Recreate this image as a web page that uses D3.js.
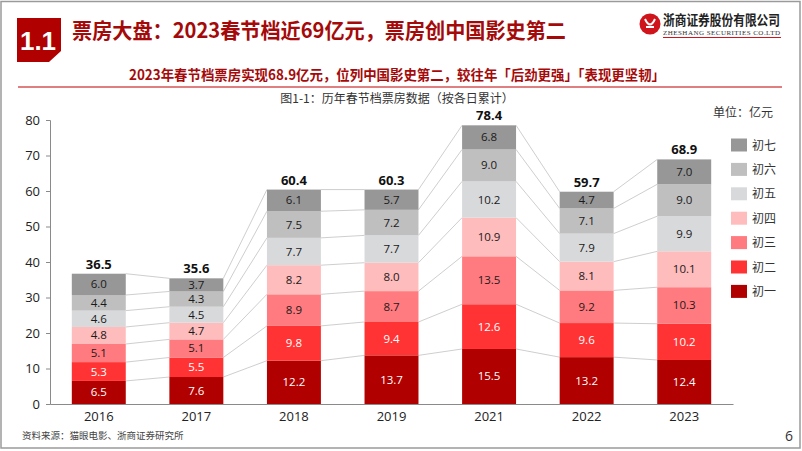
<!DOCTYPE html>
<html><head><meta charset="utf-8">
<script src="https://cdn.jsdelivr.net/npm/d3@7/dist/d3.min.js"></script>
<style>
html,body{margin:0;padding:0;background:#fff;}
svg text{font-family:"Noto Sans CJK SC","Microsoft YaHei",sans-serif;}
</style></head>
<body>
<svg id="c" width="802" height="451"></svg>
<script>
const years = ["2016","2017","2018","2019","2021","2022","2023"];
const days = ["初一","初二","初三","初四","初五","初六","初七"];
const day1 = [6.5, 7.6, 12.2, 13.7, 15.5, 13.2, 12.4];
const day2 = [5.3, 5.5, 9.8, 9.4, 12.6, 9.6, 10.2];
const day3 = [5.1, 5.1, 8.9, 8.7, 13.5, 9.2, 10.3];
const day4 = [4.8, 4.7, 8.2, 8.0, 10.9, 8.1, 10.1];
const day5 = [4.6, 4.5, 7.7, 7.7, 10.2, 7.9, 9.9];
const day6 = [4.4, 4.3, 7.5, 7.2, 9.0, 7.1, 9.0];
const day7 = [6.0, 3.7, 6.1, 5.7, 6.8, 4.7, 7.0];
const totals = [36.5, 35.6, 60.4, 60.3, 78.4, 59.7, 68.9];
const yTicks = [0,10,20,30,40,50,60,70,80];
const colors = ["#b00000","#ff3333","#ff7b7f","#ffbcbc","#d8d9db","#bfbfbf","#979797"];
const textColors = ["#fff","#fff","#1a1a1a","#1a1a1a","#1a1a1a","#1a1a1a","#1a1a1a"];

const series = [day1,day2,day3,day4,day5,day6,day7];
const table = years.map((yr,i)=>{const o={year:yr}; days.forEach((d,k)=>o[d]=series[k][i]); return o;});
const stacked = d3.stack().keys(days)(table);

const svg = d3.select("#c");
// page frame
svg.append("rect").attr("x",1).attr("y",1.5).attr("width",799).attr("height",446.5)
  .attr("fill","none").attr("stroke","#9a9a9a").attr("stroke-width",1.5);

// header block
svg.append("path").attr("d","M17,18 L61,18 L61,51 L49,62 L17,62 Z").attr("fill","#b00000");
svg.append("text").attr("x",38).attr("y",50).attr("text-anchor","middle").attr("fill","#fff")
  .attr("font-size",26).attr("font-weight","bold").style("font-family","Arial,'Liberation Sans',sans-serif").text("1.1");
svg.append("text").attr("x",72).attr("y",38).attr("fill","#a50a0a").attr("font-size",21).attr("font-weight","bold")
  .attr("textLength",494).attr("lengthAdjust","spacingAndGlyphs")
  .text("票房大盘：2023春节档近69亿元，票房创中国影史第二");

// logo
const lg = svg.append("g");
lg.append("circle").attr("cx",650).attr("cy",24).attr("r",10.5).attr("fill","#d0141c");
lg.append("path").attr("d","M645,19 Q650,30 655,19 M646,27 L654,27").attr("stroke","#fff").attr("stroke-width",2).attr("fill","none");
lg.append("text").attr("x",663).attr("y",25).attr("font-size",13.5).attr("fill","#222").attr("font-weight","bold")
  .attr("textLength",117).attr("lengthAdjust","spacingAndGlyphs").text("浙商证券股份有限公司");
lg.append("text").attr("x",663).attr("y",35).attr("font-size",7).attr("fill","#333")
  .style("font-family","'Liberation Serif',serif").attr("textLength",117).text("ZHESHANG SECURITIES CO.LTD");
lg.append("line").attr("x1",663).attr("x2",781).attr("y1",37.5).attr("y2",37.5).attr("stroke","#d0141c").attr("stroke-width",1);

// subtitle
svg.append("text").attr("x",397).attr("y",80).attr("text-anchor","middle").attr("fill","#a50a0a")
  .attr("font-size",14).attr("font-weight","bold").attr("textLength",536).attr("lengthAdjust","spacingAndGlyphs")
  .text("2023年春节档票房实现68.9亿元，位列中国影史第二，较往年「后劲更强」「表现更坚韧」");
svg.append("line").attr("x1",18).attr("x2",782).attr("y1",87).attr("y2",87).attr("stroke","#c00000").attr("stroke-width",1.2);
svg.append("text").attr("x",397).attr("y",103).attr("text-anchor","middle").attr("fill","#333")
  .attr("font-size",12).text("图1-1：历年春节档票房数据（按各日累计）");
svg.append("text").attr("x",773).attr("y",117).attr("text-anchor","end").attr("fill","#333")
  .attr("font-size",12).text("单位：亿元");

// scales
const x = d3.scaleBand().domain(years).range([50,733]).paddingInner(0.447).paddingOuter(0.2235);
const y = d3.scaleLinear().domain([0,80]).range([404,120]);
const bw = x.bandwidth();

// axes
const ya = svg.append("g").attr("transform","translate(50,0)")
  .call(d3.axisLeft(y).tickValues(yTicks).tickSize(4).tickPadding(6));
ya.select(".domain").attr("stroke","#8a8a8a");
ya.selectAll(".tick line").attr("stroke","#8a8a8a");
ya.selectAll(".tick text").attr("font-size",13).attr("fill","#222").style("font-family","'Open Sans','Noto Sans',sans-serif");

// connectors
const conn = svg.append("g");
for(let i=0;i<years.length-1;i++){
  stacked.forEach(s=>{
    conn.append("line")
      .attr("x1",x(years[i])+bw).attr("y1",y(s[i][1]))
      .attr("x2",x(years[i+1])).attr("y2",y(s[i+1][1]))
      .attr("stroke","#c8c8c8").attr("stroke-width",0.9);
  });
}

// bars
stacked.forEach((s,k)=>{
  const g = svg.append("g");
  g.selectAll("rect").data(s).join("rect")
    .attr("x",d=>x(d.data.year)).attr("width",bw)
    .attr("y",d=>y(d[1])).attr("height",d=>y(d[0])-y(d[1]))
    .attr("fill",colors[k]);
  g.selectAll("text").data(s).join("text")
    .attr("x",d=>x(d.data.year)+bw/2).attr("y",d=>(y(d[0])+y(d[1]))/2+4)
    .attr("text-anchor","middle").attr("font-size",11.5).attr("fill",textColors[k])
    .style("font-family","'Open Sans','Noto Sans',sans-serif")
    .text(d=>(d[1]-d[0]).toFixed(1));
});

// x axis
const xa = svg.append("g").attr("transform","translate(0,404)").call(d3.axisBottom(x).tickSize(0).tickPadding(8));
xa.select(".domain").attr("stroke","#8a8a8a").attr("stroke-width",1.2);
xa.selectAll(".tick text").attr("font-size",13).attr("fill","#222").style("font-family","'Open Sans','Noto Sans',sans-serif");

// totals
svg.append("g").selectAll("text").data(years).join("text")
  .attr("x",d=>x(d)+bw/2).attr("y",(d,i)=>y(stacked[6][i][1])-5)
  .attr("text-anchor","middle").attr("font-size",13).attr("font-weight","bold").attr("fill","#111")
  .style("font-family","'Open Sans','Noto Sans',sans-serif")
  .text((d,i)=>totals[i].toFixed(1));

// legend
const leg = svg.append("g");
days.slice().reverse().forEach((d,j)=>{
  const k = days.length-1-j;
  const cy = 145 + j*24.4;
  leg.append("rect").attr("x",731).attr("y",cy-6.5).attr("width",16).attr("height",13).attr("fill",colors[k]);
  leg.append("text").attr("x",752).attr("y",cy+4.5).attr("font-size",12).attr("fill","#333").text(d);
});

// footer
svg.append("text").attr("x",22).attr("y",439).attr("font-size",9.5).attr("fill","#444").text("资料来源：猫眼电影、浙商证券研究所");
svg.append("text").attr("x",785).attr("y",441).attr("font-size",14).attr("fill","#333").style("font-family","'Open Sans',sans-serif").text("6");
</script>
</body></html>
